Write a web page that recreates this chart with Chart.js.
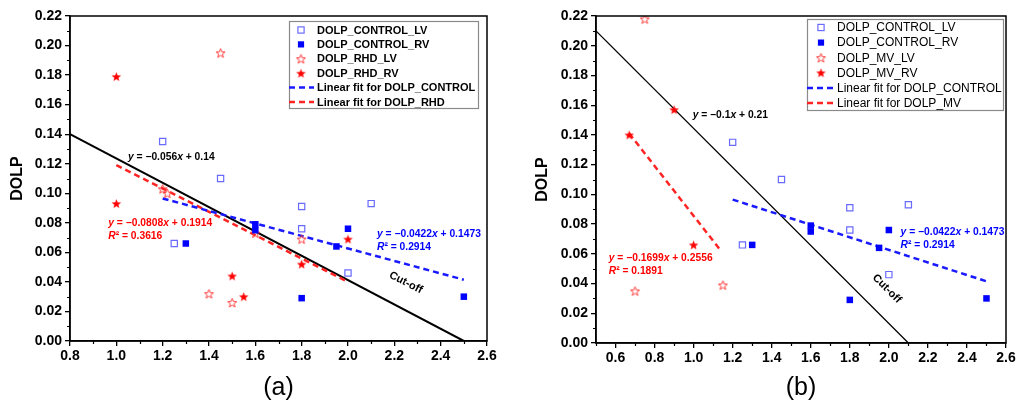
<!DOCTYPE html>
<html><head><meta charset="utf-8">
<script src="https://cdn.jsdelivr.net/npm/chart.js@4/dist/chart.umd.min.js"></script>
<style>
html,body{margin:0;padding:0;background:#fff;}
#wrap{position:relative;width:1019px;height:405px;overflow:hidden;}
.pane{position:absolute;top:0;height:405px;}
#pa{left:0;width:509px;} #pb{left:509px;width:510px;}
</style></head><body>
<div id="wrap"><div class="pane" id="pa"><canvas id="ca"></canvas></div><div class="pane" id="pb"><canvas id="cb"></canvas></div></div>
<script>
// ---------- data ----------
const xTicksA = [0.8, 1.0, 1.2, 1.4, 1.6, 1.8, 2.0, 2.2, 2.4, 2.6];
const xTicksB = [0.6, 0.8, 1.0, 1.2, 1.4, 1.6, 1.8, 2.0, 2.2, 2.4, 2.6];
const yTicks  = [0, 0.02, 0.04, 0.06, 0.08, 0.10, 0.12, 0.14, 0.16, 0.18, 0.20, 0.22];

const ctrlLV_x = [1.2, 1.25, 1.45, 1.8, 1.8, 2.0, 2.1];
const ctrlLV_y = [0.135, 0.066, 0.110, 0.091, 0.076, 0.046, 0.093];
const ctrlRV_x = [1.3, 1.6, 1.6, 1.8, 1.95, 2.0, 2.5];
const ctrlRV_y = [0.066, 0.079, 0.075, 0.029, 0.064, 0.076, 0.030];

const rhdLV_x = [1.2, 1.22, 1.4, 1.45, 1.5, 1.6, 1.8];
const rhdLV_y = [0.103, 0.100, 0.032, 0.195, 0.026, 0.073, 0.069];
const rhdRV_x = [1.0, 1.0, 1.5, 1.55, 1.8, 2.0];
const rhdRV_y = [0.179, 0.093, 0.044, 0.030, 0.052, 0.069];

const mvLV_x = [0.7, 0.75, 1.15];
const mvLV_y = [0.035, 0.218, 0.039];
const mvRV_x = [0.67, 0.9, 1.0];
const mvRV_y = [0.140, 0.157, 0.066];

const fitCtrl_x = [1.2, 2.5];
const fitCtrl_y = [0.0965, 0.0415];
const fitRhd_x = [1.0, 2.0];
const fitRhd_y = [0.119, 0.040];
const fitMv_x = [0.67, 1.14];
const fitMv_y = [0.141, 0.062];
const cutA_x = [0.8, 2.5];
const cutA_y = [0.14, 0.0];
const cutB_x = [0.5, 2.1];
const cutB_y = [0.21, 0.0];

const pts = (xs, ys) => xs.map((x, i) => ({x, y: ys[i]}));

// ---------- styles ----------
const FONT = '"Liberation Sans", Arial, sans-serif';
function makeStar(fill, stroke, R) {
  const c = document.createElement('canvas');
  const s = Math.ceil(R * 2 + 3);
  c.width = s; c.height = s;
  const g = c.getContext('2d');
  const cx = s / 2, cy = s / 2 + 0.5, r = R * 0.42;
  g.beginPath();
  for (let i = 0; i < 10; i++) {
    const ang = -Math.PI / 2 + i * Math.PI / 5;
    const rr = i % 2 === 0 ? R : r;
    const px = cx + rr * Math.cos(ang), py = cy + rr * Math.sin(ang);
    i === 0 ? g.moveTo(px, py) : g.lineTo(px, py);
  }
  g.closePath();
  if (fill) { g.fillStyle = fill; g.fill(); }
  if (stroke) { g.strokeStyle = stroke; g.lineWidth = 1; g.stroke(); }
  return c;
}
const starFilled = makeStar('#ff0000', null, 5);
const starOpen = makeStar(null, '#ff3b3b', 4.8);

function sqOpen(label, xs, ys) {
  return {label, data: pts(xs, ys), pointStyle: 'rect', pointRadius: 4.4, pointBorderWidth: 1.2,
    pointBorderColor: '#6a6aff', pointBackgroundColor: 'rgba(0,0,0,0)', showLine: false};
}
function sqFilled(label, xs, ys) {
  return {label, data: pts(xs, ys), pointStyle: 'rect', pointRadius: 4.6, pointBorderWidth: 0,
    pointBorderColor: '#0000ff', pointBackgroundColor: '#0000ff', showLine: false};
}
function starSet(label, xs, ys, img) {
  return {label, data: pts(xs, ys), pointStyle: img, pointRadius: 5, showLine: false};
}
function lineSet(label, xs, ys, color, width, dash, legend) {
  return {label, data: pts(xs, ys), showLine: true, borderColor: color, borderWidth: width,
    borderDash: dash, pointRadius: 0, fill: false, legend};
}

// ---------- decorations plugin ----------
function drawRich(ctx, text, size, color) {
  const runs = [];
  let cur = null;
  for (const ch of text) {
    const it = /[xyR]/.test(ch);
    if (!cur || cur.it !== it) { cur = {it, s: ''}; runs.push(cur); }
    cur.s += ch;
  }
  let w = 0;
  runs.forEach(r => {
    ctx.font = (r.it ? 'italic ' : '') + 'bold ' + size + 'px ' + FONT;
    r.w = ctx.measureText(r.s).width; w += r.w;
  });
  return {runs, w, draw(x0, y0) {
    let x = x0;
    ctx.fillStyle = color; ctx.textBaseline = 'middle'; ctx.textAlign = 'left';
    runs.forEach(r => {
      ctx.font = (r.it ? 'italic ' : '') + 'bold ' + size + 'px ' + FONT;
      ctx.fillText(r.s, x, y0); x += r.w;
    });
  }};
}

const decor = {
  id: 'decor',
  afterDraw(chart, args, o) {
    const {ctx, chartArea: a, scales: {x, y}} = chart;
    ctx.save();
    ctx.strokeStyle = '#000'; ctx.lineWidth = 1.5;
    ctx.strokeRect(a.left, a.top, a.right - a.left, a.bottom - a.top);
    ctx.lineWidth = 1.2;
    ctx.beginPath();
    for (let k = Math.ceil(x.min * 10 - 1e-6); k <= Math.floor(x.max * 10 + 1e-6); k++) {
      if (k % 2 === 0) continue;
      const px = Math.round(x.getPixelForValue(k / 10)) + 0.5;
      ctx.moveTo(px, a.bottom); ctx.lineTo(px, a.bottom + 3);
    }
    for (let k = Math.ceil(y.min * 100 - 1e-6); k <= Math.floor(y.max * 100 + 1e-6); k++) {
      if (k % 2 === 0) continue;
      const py = Math.round(y.getPixelForValue(k / 100)) + 0.5;
      ctx.moveTo(a.left, py); ctx.lineTo(a.left - 3, py);
    }
    ctx.stroke();
    (o.notes || []).forEach(n => {
      const rt = drawRich(ctx, n.text, n.size, n.color);
      const px = x.getPixelForValue(n.x), py = y.getPixelForValue(n.y);
      if (n.rot) {
        ctx.save(); ctx.translate(px, py); ctx.rotate(n.rot * Math.PI / 180);
        ctx.font = 'bold ' + n.size + 'px ' + FONT;
        ctx.fillStyle = n.color; ctx.textAlign = 'center'; ctx.textBaseline = 'middle';
        ctx.fillText(n.text, 0, 0);
        ctx.restore();
      } else {
        rt.draw(px, py);
      }
    });
    const L = o.legend;
    if (L) {
      ctx.fillStyle = '#fff';
      ctx.fillRect(L.box[0], L.box[1], L.box[2] - L.box[0], L.box[3] - L.box[1]);
      ctx.strokeStyle = '#8a8a8a'; ctx.lineWidth = 1.2;
      ctx.strokeRect(L.box[0] + 0.5, L.box[1] + 0.5, L.box[2] - L.box[0], L.box[3] - L.box[1]);
      let row = 0;
      chart.data.datasets.forEach(ds => {
        if (ds.legend === false) return;
        const ry = L.y0 + row * L.step;
        if (ds.showLine) {
          ctx.save();
          ctx.strokeStyle = ds.borderColor; ctx.lineWidth = ds.borderWidth; ctx.setLineDash(ds.borderDash || []);
          ctx.beginPath(); ctx.moveTo(L.lx0, ry); ctx.lineTo(L.lx1, ry); ctx.stroke();
          ctx.restore();
        } else if (ds.pointStyle instanceof HTMLCanvasElement) {
          const img = ds.pointStyle;
          ctx.drawImage(img, L.sx - img.width / 2, ry - img.height / 2);
        } else {
          const s = 6.2;
          if (ds.pointBorderWidth) {
            ctx.strokeStyle = ds.pointBorderColor; ctx.lineWidth = ds.pointBorderWidth;
            ctx.strokeRect(L.sx - s / 2, ry - s / 2, s, s);
          } else {
            ctx.fillStyle = ds.pointBackgroundColor;
            ctx.fillRect(L.sx - s / 2, ry - s / 2, s, s);
          }
        }
        ctx.fillStyle = '#000'; ctx.font = L.font; ctx.textAlign = 'left'; ctx.textBaseline = 'middle';
        ctx.fillText(ds.label, L.tx, ry + 0.5);
        row++;
      });
    }
    ctx.restore();
  }
};

function makeChart(id, c) {
  return new Chart(document.getElementById(id), {
    type: 'scatter',
    data: {datasets: c.datasets},
    options: {
      responsive: true, maintainAspectRatio: false, animation: false,
      layout: {padding: {top: c.padTop, right: c.padRight, left: 0, bottom: 0}},
      plugins: {legend: {display: false}, tooltip: {enabled: false}, decor: c.decor},
      scales: {
        x: {
          type: 'linear', min: c.xmin, max: c.xmax,
          afterBuildTicks: s => { s.ticks = c.xTicks.map(v => ({value: v})); },
          afterFit: s => { s.height = c.xH; },
          ticks: {font: {family: FONT, size: 14, weight: 'bold'}, color: '#000', padding: 2,
            autoSkip: false, maxRotation: 0, callback: v => Number(v).toFixed(1)},
          grid: {drawOnChartArea: false, tickLength: 5, color: '#000', lineWidth: 1.3},
          border: {color: '#000', width: 1.5},
          title: {display: true, text: c.panel, color: '#000', font: {family: FONT, size: 25}, padding: {top: 0, bottom: 2}}
        },
        y: {
          type: 'linear', min: 0, max: 0.22,
          afterBuildTicks: s => { s.ticks = yTicks.map(v => ({value: v})); },
          afterFit: s => { s.width = c.yW; },
          ticks: {font: {family: FONT, size: 14, weight: 'bold'}, color: '#000', padding: 3,
            autoSkip: false, callback: v => Number(v).toFixed(2)},
          grid: {drawOnChartArea: false, tickLength: 5, color: '#000', lineWidth: 1.3},
          border: {color: '#000', width: 1.5},
          title: {display: true, text: 'DOLP', color: '#000', font: {family: FONT, size: 16, weight: 'bold'}, padding: {top: c.yTitlePad, bottom: 0}}
        }
      }
    },
    plugins: [decor]
  });
}

const BLUE = '#1a1aff', RED = '#ff2424';
const NS = 10.3;

makeChart('ca', {
  panel: '(a)', xmin: 0.8, xmax: 2.6, xTicks: xTicksA, padTop: 16, padRight: 22, xH: 64, yW: 70, yTitlePad: 8,
  datasets: [
    sqOpen('DOLP_CONTROL_LV', ctrlLV_x, ctrlLV_y),
    sqFilled('DOLP_CONTROL_RV', ctrlRV_x, ctrlRV_y),
    starSet('DOLP_RHD_LV', rhdLV_x, rhdLV_y, starOpen),
    starSet('DOLP_RHD_RV', rhdRV_x, rhdRV_y, starFilled),
    lineSet('Linear fit for DOLP_CONTROL', fitCtrl_x, fitCtrl_y, BLUE, 2.5, [6, 4], true),
    lineSet('Linear fit for DOLP_RHD', fitRhd_x, fitRhd_y, RED, 2.5, [6, 4], true),
    lineSet('Cut-off', cutA_x, cutA_y, '#000', 2, [], false)
  ],
  decor: {
    notes: [
      {x: 1.05, y: 0.1245, text: 'y = −0.056x + 0.14', size: NS, color: '#000'},
      {x: 0.965, y: 0.0800, text: 'y = −0.0808x + 0.1914', size: NS, color: '#ff0000'},
      {x: 0.965, y: 0.0712, text: 'R² = 0.3616', size: NS, color: '#ff0000'},
      {x: 2.125, y: 0.0720, text: 'y = −0.0422x + 0.1473', size: NS, color: '#0000ff'},
      {x: 2.125, y: 0.0632, text: 'R² = 0.2914', size: NS, color: '#0000ff'},
      {x: 2.25, y: 0.0395, text: 'Cut-off', size: 11, color: '#000', rot: 27}
    ],
    legend: {box: [289, 21, 478, 108], y0: 30, step: 14.4, sx: 301, lx0: 289, lx1: 314, tx: 317,
      font: 'bold 11px ' + FONT}
  }
});

makeChart('cb', {
  panel: '(b)', xmin: 0.5, xmax: 2.6, xTicks: xTicksB, padTop: 16, padRight: 13, xH: 62, yW: 87, yTitlePad: 24,
  datasets: [
    sqOpen('DOLP_CONTROL_LV', ctrlLV_x, ctrlLV_y),
    sqFilled('DOLP_CONTROL_RV', ctrlRV_x, ctrlRV_y),
    starSet('DOLP_MV_LV', mvLV_x, mvLV_y, starOpen),
    starSet('DOLP_MV_RV', mvRV_x, mvRV_y, starFilled),
    lineSet('Linear fit for DOLP_CONTROL', fitCtrl_x, fitCtrl_y, BLUE, 2.5, [6, 4], true),
    lineSet('Linear fit for DOLP_MV', fitMv_x, fitMv_y, RED, 2.5, [6, 4], true),
    lineSet('Cut-off', cutB_x, cutB_y, '#000', 1.3, [], false)
  ],
  decor: {
    notes: [
      {x: 0.995, y: 0.1530, text: 'y = −0.1x + 0.21', size: NS, color: '#000'},
      {x: 0.565, y: 0.0570, text: 'y = −0.1699x + 0.2556', size: NS, color: '#ff0000'},
      {x: 0.565, y: 0.0480, text: 'R² = 0.1891', size: NS, color: '#ff0000'},
      {x: 2.06, y: 0.0745, text: 'y = −0.0422x + 0.1473', size: NS, color: '#0000ff'},
      {x: 2.06, y: 0.0655, text: 'R² = 0.2914', size: NS, color: '#0000ff'},
      {x: 1.99, y: 0.0365, text: 'Cut-off', size: 11, color: '#000', rot: 45}
    ],
    legend: {box: [298, 19, 494, 110], y0: 27.5, step: 15.1, sx: 312, lx0: 298, lx1: 324, tx: 328,
      font: '12px ' + FONT}
  }
});
</script>
</body></html>
